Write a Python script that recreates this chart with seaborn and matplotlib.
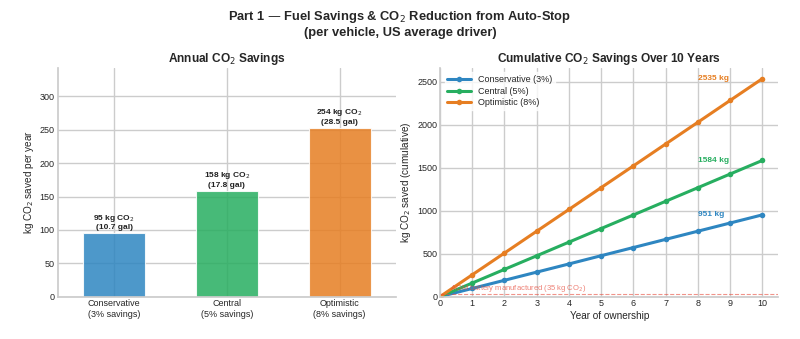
import numpy as np
import matplotlib
matplotlib.use("Agg")
import matplotlib.pyplot as plt
import seaborn as sns
import pandas as pd

scenarios = ["Conservative\n(3% savings)", "Central\n(5% savings)", "Optimistic\n(8% savings)"]
series_names = ["Conservative (3%)", "Central (5%)", "Optimistic (8%)"]
annual_co2 = [95.1, 158.4, 253.5]
annual_gal = [10.7, 17.8, 28.5]
bar_labels = ["95 kg CO$_2$\n(10.7 gal)", "158 kg CO$_2$\n(17.8 gal)", "254 kg CO$_2$\n(28.5 gal)"]
years = list(range(0, 11))
cum_conservative = [0, 95, 190, 285, 380, 476, 571, 666, 761, 856, 951]
cum_central = [0, 158, 317, 475, 634, 792, 950, 1109, 1267, 1426, 1584]
cum_optimistic = [0, 254, 507, 761, 1014, 1268, 1521, 1775, 2028, 2282, 2535]
end_labels = ["951 kg", "1584 kg", "2535 kg"]
battery_co2 = 35
colors = ["#2e86c1", "#27ae60", "#e67e22"]

sns.set_theme(style="whitegrid")
plt.rcParams['font.family'] = ['Liberation Sans', 'DejaVu Sans']

fig, axes = plt.subplots(1, 2, figsize=(8, 3.39), dpi=100)
fig.subplots_adjust(left=0.072, right=0.973, top=0.80, bottom=0.125, wspace=0.13)
fig.suptitle("Part 1 — Fuel Savings & CO$_2$ Reduction from Auto-Stop\n(per vehicle, US average driver)",
             fontsize=9.3, fontweight="bold", y=0.972)

ax = axes[0]
df = pd.DataFrame({"scenario": scenarios, "co2": annual_co2})
sns.barplot(data=df, x="scenario", y="co2", hue="scenario", palette=colors, ax=ax,
            width=0.55, alpha=0.85, legend=False, saturation=1, edgecolor="white", linewidth=0.8)
for i, (v, lab) in enumerate(zip(annual_co2, bar_labels)):
    ax.text(i, v + 3, lab, ha="center", va="bottom", fontsize=6, fontweight="bold",
            color="#222222", linespacing=1.1)
ax.xaxis.grid(True)
ax.set_axisbelow(True)
ax.set_ylim(0, 343)
ax.set_xlabel("")
ax.set_ylabel("kg CO$_2$ saved per year", fontsize=7.2, labelpad=3)
ax.set_title("Annual CO$_2$ Savings", fontsize=8.6, fontweight="bold", pad=4)
ax.tick_params(labelsize=6.5, pad=2, length=0)

ax2 = axes[1]
ldf = pd.DataFrame({
    "year": years * 3,
    "cum": cum_conservative + cum_central + cum_optimistic,
    "scenario": [series_names[0]] * 11 + [series_names[1]] * 11 + [series_names[2]] * 11,
})
sns.lineplot(data=ldf, x="year", y="cum", hue="scenario", palette=colors, marker="o",
             markersize=4, markeredgewidth=0, linewidth=2.2, ax=ax2)
cums = [cum_conservative, cum_central, cum_optimistic]
for c, lab, col in zip(cums, end_labels, colors):
    ax2.text(8, c[-1], lab, ha="left", va="center", fontsize=6, fontweight="bold", color=col)
ax2.axhline(battery_co2, color="#e74c3c", linestyle="--", linewidth=0.8, alpha=0.6)
ax2.text(0.3, battery_co2 - 5, "AGM battery manufactured (35 kg CO$_2$)", fontsize=5.5,
         color="#e74c3c", alpha=0.7, va="bottom")
ax2.set_xlim(0, 10.5)
ax2.set_ylim(0, 2662)
ax2.set_xticks(years)
ax2.set_xlabel("Year of ownership", fontsize=7.2, labelpad=2)
ax2.set_ylabel("kg CO$_2$ saved (cumulative)", fontsize=7.2, labelpad=3)
ax2.set_title("Cumulative CO$_2$ Savings Over 10 Years", fontsize=8.6, fontweight="bold", pad=4)
ax2.tick_params(labelsize=6.5, pad=2, length=0)
ax2.legend(fontsize=6.5, loc="upper left", frameon=True, framealpha=0.8, edgecolor="white",
           handlelength=2.6, borderpad=0.3, labelspacing=0.3)

for a in axes:
    sns.despine(ax=a)

fig.savefig("out.png", dpi=100)
